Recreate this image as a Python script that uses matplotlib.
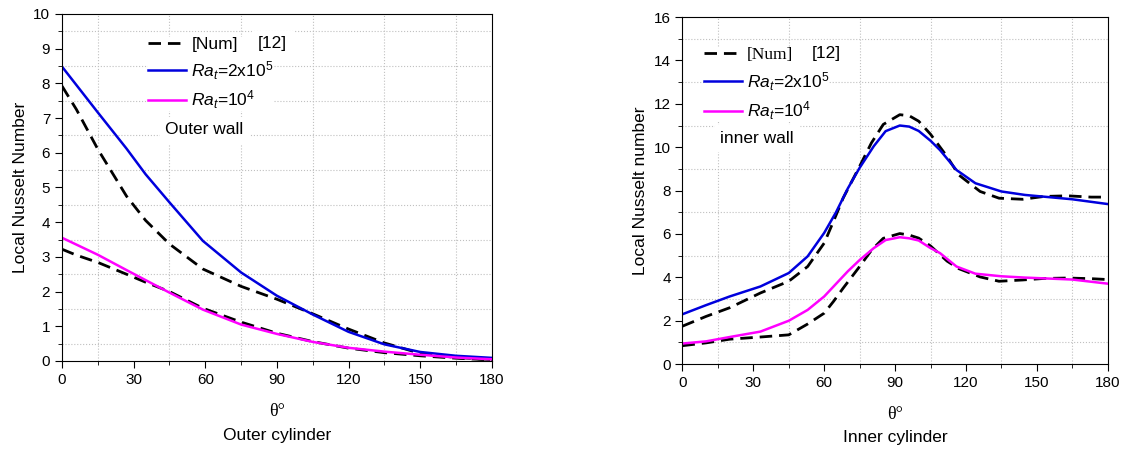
import matplotlib
matplotlib.use("Agg")
import matplotlib.pyplot as plt
from matplotlib.ticker import MultipleLocator

plt.rcParams["font.family"] = ["Liberation Sans", "DejaVu Sans"]
plt.rcParams["mathtext.fontset"] = "custom"
plt.rcParams["mathtext.rm"] = "Liberation Sans"
plt.rcParams["mathtext.it"] = "Liberation Sans:italic"

# ---- outer cylinder ----
outer_theta_ra = [0, 15, 27, 35, 45, 59, 75, 90, 105, 120, 135, 150, 165, 180]
outer_ra_hi = [8.48, 7.16, 6.12, 5.38, 4.57, 3.46, 2.55, 1.88, 1.34, 0.84, 0.48,
               0.26, 0.15, 0.09]
outer_ra_lo = [3.55, 3.06, 2.62, 2.33, 1.97, 1.48, 1.05, 0.78, 0.55, 0.38, 0.27,
               0.18, 0.1, 0.05]

outer_theta_num = [0, 6, 15, 27, 35, 45, 59, 75, 90, 105, 120, 135, 150, 165, 180]
outer_num_hi = [7.92, 7.25, 6.1, 4.75, 4.05, 3.37, 2.65, 2.15, 1.78, 1.36, 0.92,
                0.52, 0.22, 0.1, 0.04]
outer_num_lo = [3.22, 3.05, 2.84, 2.5, 2.27, 2.0, 1.52, 1.12, 0.8, 0.56, 0.37,
                0.24, 0.15, 0.08, 0.03]

# ---- inner cylinder ----
inner_theta_ra = [0, 10, 20, 33, 45, 53, 60, 65, 70, 75, 81, 86, 92, 96, 100,
                  105, 109, 116, 124, 135, 145, 165, 180]
inner_ra_hi = [2.3, 2.72, 3.12, 3.58, 4.2, 4.97, 6.05, 7.0, 8.1, 9.05, 10.05,
               10.74, 11.0, 10.95, 10.75, 10.3, 9.87, 8.95, 8.34, 7.96, 7.8,
               7.6, 7.38]
inner_ra_lo = [0.95, 1.05, 1.25, 1.5, 2.0, 2.5, 3.12, 3.7, 4.28, 4.8, 5.35, 5.72,
               5.85, 5.8, 5.7, 5.35, 5.12, 4.5, 4.17, 4.05, 3.99, 3.9, 3.71]

inner_theta_num = [0, 10, 20, 33, 45, 53, 60, 64, 68, 75, 80, 85, 92, 96, 100,
                   105, 112, 117, 126, 134, 144, 153, 163, 173, 180]
inner_num_hi = [1.75, 2.2, 2.6, 3.28, 3.82, 4.5, 5.58, 6.6, 7.65, 9.12, 10.2,
                11.05, 11.5, 11.45, 11.2, 10.6, 9.57, 8.72, 7.96, 7.65, 7.6,
                7.73, 7.76, 7.7, 7.7]
inner_num_lo = [0.85, 0.98, 1.15, 1.25, 1.35, 1.85, 2.35, 2.9, 3.5, 4.5, 5.25,
                5.8, 6.02, 5.95, 5.81, 5.45, 4.75, 4.4, 4.02, 3.82, 3.88, 3.95,
                3.97, 3.94, 3.9]

label_hi = r"$Ra_t$=2x10$^5$"
label_lo = r"$Ra_t$=10$^4$"


def style_axes(ax, ymax, ymajor, yminor):
    ax.set_xlim(0, 180)
    ax.set_ylim(0, ymax)
    ax.xaxis.set_major_locator(MultipleLocator(30))
    ax.xaxis.set_minor_locator(MultipleLocator(15))
    ax.yaxis.set_major_locator(MultipleLocator(ymajor))
    ax.yaxis.set_minor_locator(MultipleLocator(yminor))
    ax.tick_params(which="major", length=5, labelsize=11)
    ax.tick_params(which="minor", length=3)
    ax.grid(True, which="minor", color="#c0c0c0", linestyle=":", linewidth=0.8)
    ax.set_axisbelow(True)


def draw_panel(ax, th_num, num_hi, num_lo, th_ra, ra_hi, ra_lo, num_family, anchor):
    dash, = ax.plot(th_num, num_hi, color="k", lw=2, dashes=(4.5, 2.5))
    ax.plot(th_num, num_lo, color="k", lw=2, dashes=(4.5, 2.5))
    blue, = ax.plot(th_ra, ra_hi, color="#0000dd", lw=1.8)
    pink, = ax.plot(th_ra, ra_lo, color="#ff00ff", lw=1.8)
    leg = ax.legend([dash, blue, pink], ["[Num]", label_hi, label_lo],
                    loc="upper left", bbox_to_anchor=anchor, fontsize=12.5,
                    handlelength=2.2, handletextpad=0.3, labelspacing=0.4,
                    borderpad=0.0, borderaxespad=0.0,
                    frameon=True, fancybox=False, edgecolor="none",
                    facecolor="white", framealpha=1)
    leg.set_zorder(3)
    leg.get_texts()[0].set_family(num_family)
    return leg


fig = plt.figure(figsize=(11.28, 4.49), dpi=100)
ax1 = fig.add_axes([0.055, 0.196, 0.381, 0.773])
ax2 = fig.add_axes([0.605, 0.189, 0.377, 0.773])

# left panel
style_axes(ax1, 10, 1, 0.5)
draw_panel(ax1, outer_theta_num, outer_num_hi, outer_num_lo,
           outer_theta_ra, outer_ra_hi, outer_ra_lo, ["Liberation Sans"], (0.2, 0.933))
ax1.text(0.456, 0.914, "[12]", transform=ax1.transAxes, fontsize=12.5,
         va="center", backgroundcolor="white", zorder=6)
ax1.text(0.24, 0.666, "Outer wall", transform=ax1.transAxes, fontsize=12.5,
         va="center", backgroundcolor="white", zorder=6)
ax1.set_ylabel("Local Nusselt Number", fontsize=12.5)
ax1.text(0.5, -0.145, "θ°", transform=ax1.transAxes, ha="center", va="center",
         fontsize=13, family="Liberation Serif")
ax1.text(0.5, -0.215, "Outer cylinder", transform=ax1.transAxes, ha="center",
         va="center", fontsize=12.5)

# right panel
style_axes(ax2, 16, 2, 1)
draw_panel(ax2, inner_theta_num, inner_num_hi, inner_num_lo,
           inner_theta_ra, inner_ra_hi, inner_ra_lo, ["Liberation Serif"], (0.05, 0.914))
ax2.text(0.305, 0.896, "[12]", transform=ax2.transAxes, fontsize=12.5,
         va="center", backgroundcolor="white", zorder=6)
ax2.text(0.089, 0.651, "inner wall", transform=ax2.transAxes, fontsize=12.5,
         va="center", backgroundcolor="white", zorder=6)
ax2.set_ylabel("Local Nusselt number", fontsize=12.5)
ax2.text(0.5, -0.145, "θ°", transform=ax2.transAxes, ha="center", va="center",
         fontsize=13, family="Liberation Serif")
ax2.text(0.5, -0.21, "Inner cylinder", transform=ax2.transAxes, ha="center",
         va="center", fontsize=12.5)

fig.savefig("out.png", dpi=100)
